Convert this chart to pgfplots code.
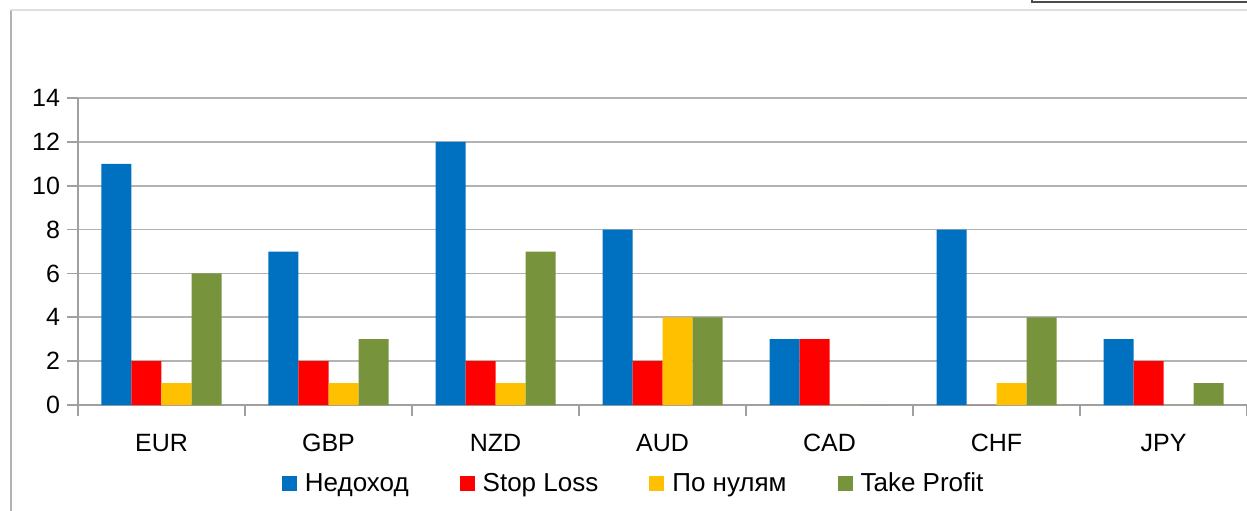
\documentclass[border=0pt]{standalone}
\usepackage{pgfplots}
\pgfplotsset{compat=1.18}
\usepackage{fontspec}
\setmainfont{Liberation Sans}
\definecolor{cBlue}{HTML}{0070C0}
\definecolor{cRed}{HTML}{FF0000}
\definecolor{cYel}{HTML}{FFC000}
\definecolor{cGrn}{HTML}{77933C}
\definecolor{cGrid}{HTML}{B3B3B3}
\definecolor{cAxis}{HTML}{A0A0A0}
\pgfplotstableread{
x a b c d
0 11 2 1 6
1 7 2 1 3
2 12 2 1 7
3 8 2 4 4
4 3 3 0 0
5 8 0 1 4
6 3 2 0 1
}\datatable
\begin{document}
\begin{tikzpicture}
\path[use as bounding box] (-39pt,-52.5pt) rectangle (584.5pt,202.5pt);
\draw[color=cAxis!80, line width=1pt] (-33.5pt,-60pt) -- (-33.5pt,197.5pt);
\draw[color=black!13, line width=0.8pt] (-33.5pt,197.5pt) -- (590pt,197.5pt);
\draw[color=black!70, line width=0.8pt] (477pt,210pt) -- (477pt,201.5pt) -- (590pt,201.5pt);
\begin{axis}[
  at={(0pt,0pt)}, anchor=south west,
  scale only axis, width=584.5pt, height=153.5pt,
  ybar=0pt, bar width=15pt,
  xmin=-0.5, xmax=6.5, ymin=0, ymax=14,
  ytick={0,2,...,14},
  xtick={-0.5,0.5,...,6.5}, xticklabels={},
  extra x ticks={0,1,2,3,4,5,6},
  extra x tick labels={EUR,GBP,NZD,AUD,CAD,CHF,JPY},
  extra x tick style={major tick length=0pt, grid=none, xticklabel style={yshift=-11pt}},
  axis x line*=bottom, axis y line*=left,
  axis line style={cAxis, line width=0.8pt, -},
  tick align=outside, major tick length=5.5pt,
  tick style={cAxis, line width=0.8pt},
  ymajorgrids, grid style={cGrid, line width=0.8pt},
  /pgf/number format/assume math mode=true,
  tick label style={font=\fontsize{12.5}{14}\selectfont},
  yticklabel style={xshift=0pt},
  legend columns=4,
  legend style={draw=none, fill=none, at={(axis description cs:0.4745,-0.256)}, anchor=center,
    font=\fontsize{13}{15}\selectfont,
    nodes={inner sep=0pt},
    /tikz/every odd column/.append style={column sep=4pt},
    /tikz/every even column/.append style={column sep=25.5pt}},
  legend image code/.code={\fill[#1] (0pt,-3.75pt) rectangle (7.5pt,3.75pt);},
]
\addplot[draw=none, fill=cBlue] table[x=x,y=a] {\datatable};
\addplot[draw=none, fill=cRed] table[x=x,y=b] {\datatable};
\addplot[draw=none, fill=cYel] table[x=x,y=c] {\datatable};
\addplot[draw=none, fill=cGrn] table[x=x,y=d] {\datatable};
\legend{Недоход, Stop Loss, По нулям, Take Profit}
\end{axis}
\end{tikzpicture}
\end{document}
